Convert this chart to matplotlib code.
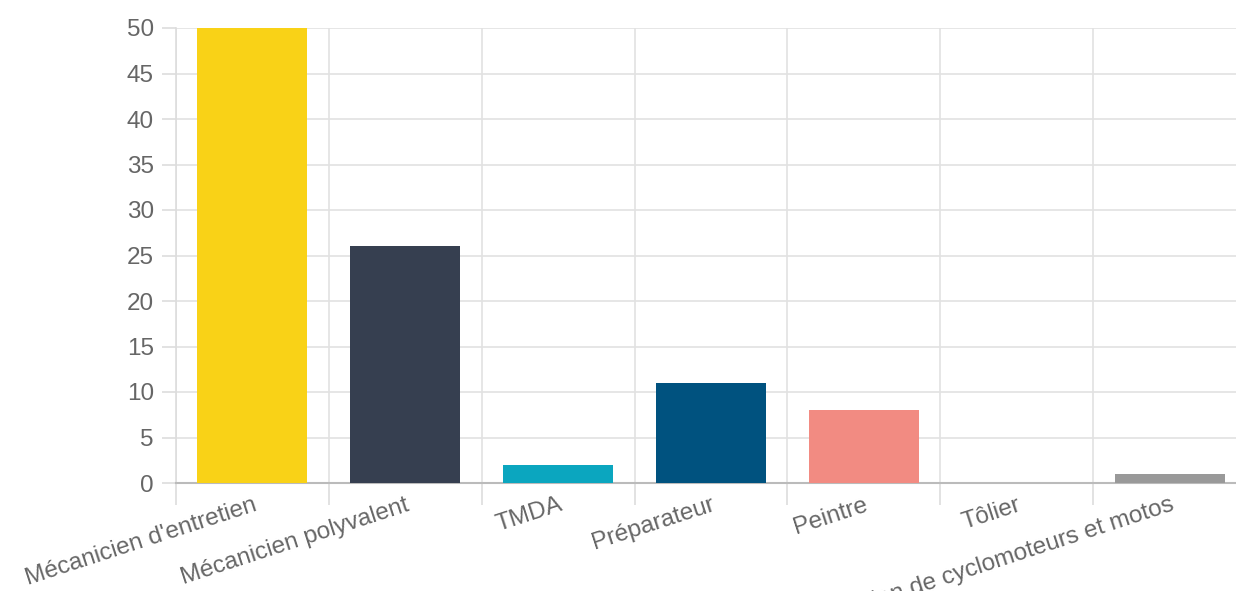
import matplotlib.pyplot as plt

plt.rcParams['font.family'] = ['Liberation Sans', 'DejaVu Sans']

metiers = ["Mécanicien d'entretien", "Mécanicien polyvalent", "TMDA", "Préparateur",
           "Peintre", "Tôlier", "Mécanicien de cyclomoteurs et motos"]
effectifs = [50, 26, 2, 11, 8, 0, 1]
couleurs = ["#F9D217", "#363F50", "#0BA6BF", "#00527F", "#F28B82", "#FFFFFF", "#999999"]

fig = plt.figure(figsize=(12.36, 5.91), dpi=100)
# plot area runs a little past the right edge, like the original canvas
ax = fig.add_axes([176/1236, 1 - 483/591, (1246 - 176)/1236, (483 - 28)/591])

x = list(range(len(metiers)))
ax.bar(x, effectifs, width=0.72, color=couleurs, zorder=3)

ax.set_xlim(-0.5, len(metiers) - 0.5)
ax.set_ylim(0, 50)
ax.set_yticks(range(0, 51, 5))

ax.set_xticks([i - 0.5 for i in x], minor=False)
ax.set_xticklabels([])
ax.set_xticks(x, minor=True)
ax.set_xticklabels(metiers, minor=True, rotation=18, ha='right',
                   rotation_mode='anchor', fontsize=17.5, color='#666666')
ax.tick_params(axis='x', which='minor', length=0, pad=8)
ax.tick_params(axis='x', which='major', length=16, color='#dddddd', width=1.2)
ax.tick_params(axis='y', length=10, color='#dddddd', width=1.2,
               labelsize=17.5, labelcolor='#666666', pad=6)

ax.grid(True, which='major', color='#e2e2e2', linewidth=1.2, zorder=0)
for s in ['top', 'right']:
    ax.spines[s].set_visible(False)
ax.spines['left'].set_color('#dddddd')
ax.spines['left'].set_linewidth(1.2)
ax.spines['bottom'].set_color('#bbbbbb')
ax.spines['bottom'].set_linewidth(1.5)
ax.set_axisbelow(True)

fig.savefig('out.png', dpi=100)
